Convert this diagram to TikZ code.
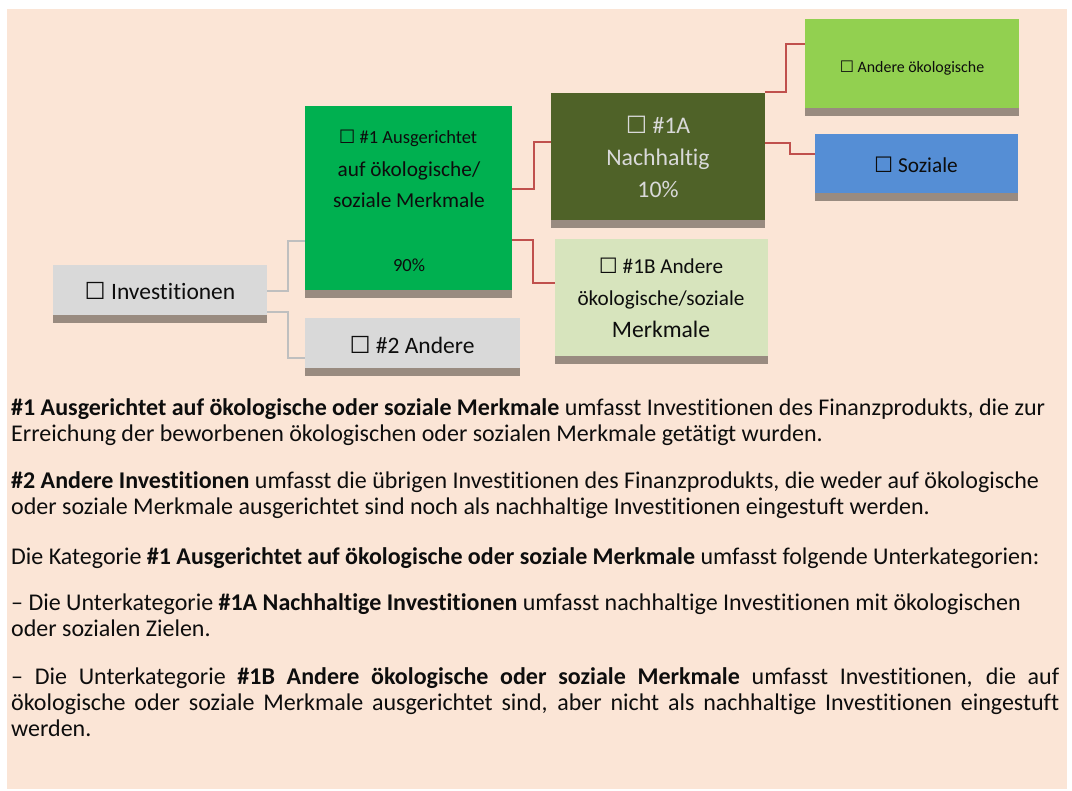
\documentclass[tikz,border=0pt]{standalone}
\usepackage{fontspec}
\setmainfont{Carlito}[Ligatures=NoCommon]
\newfontfamily\symfont[Scale=1.0]{DejaVu Sans}
\newcommand\cbx{{\symfont\char"2610}}
\newcommand\fsz[1]{\fontsize{#1}{#1}\selectfont}
\definecolor{peach}{HTML}{FBE5D6}
\definecolor{gbox}{HTML}{D9D9D9}
\definecolor{shd}{HTML}{998B80}
\definecolor{green1}{HTML}{00B050}
\definecolor{olive}{HTML}{4F6228}
\definecolor{lgreen}{HTML}{92D050}
\definecolor{blue1}{HTML}{558ED5}
\definecolor{pale}{HTML}{D7E4BD}
\definecolor{redl}{HTML}{C0504D}
\definecolor{grayl}{HTML}{BFBFBF}
\definecolor{txt}{HTML}{0D0D0D}
\tikzset{
  boxn/.style={draw=none, inner sep=0pt, anchor=north west},
  lbl/.style={inner sep=0pt, anchor=base, text=txt},
  body/.style={inner sep=0pt, anchor=base west, text=txt, font=\fsz{24}},
  glink/.style={draw=grayl, line width=2pt},
  rlink/.style={draw=redl, line width=2pt},
}
\newcommand\shadowbar[1]{\fill[shd] (#1.south west) rectangle ([yshift=-8pt]#1.south east);}
\begin{document}
\begin{tikzpicture}[x=1pt,y=-1pt]
\useasboundingbox (0,0) rectangle (1072,791);
\fill[white] (0,0) rectangle (1072,791);
\fill[peach] (7,9) rectangle (1067,789);

% boxes
\node[boxn, fill=gbox, minimum width=214, minimum height=50] (inv) at (53,265) {};
\node[boxn, fill=green1, minimum width=207, minimum height=184] (g1) at (305,106) {};
\node[boxn, fill=gbox, minimum width=215, minimum height=50] (n2) at (305,318) {};
\node[boxn, fill=olive, minimum width=214, minimum height=127] (a1) at (551,93) {};
\node[boxn, fill=lgreen, minimum width=214, minimum height=89] (ao) at (805,19) {};
\node[boxn, fill=blue1, minimum width=203, minimum height=59] (soz) at (815,134) {};
\node[boxn, fill=pale, minimum width=213, minimum height=117] (b1) at (555,239) {};
\shadowbar{inv}
\shadowbar{g1}
\shadowbar{n2}
\shadowbar{a1}
\shadowbar{ao}
\shadowbar{soz}
\shadowbar{b1}

% connectors
\draw[glink] (inv.east |- 0,291) -- (288,291) |- (g1.west |- 0,241);
\draw[glink] (inv.east |- 0,312) -- (288,312) |- (n2.west |- 0,358);
\draw[rlink] (g1.east |- 0,189) -- (534,189) |- (a1.west |- 0,142);
\draw[rlink] (g1.east |- 0,240) -- (533,240) |- (b1.west |- 0,283);
\draw[rlink] (a1.east |- 0,92) -- (786,92) |- (ao.west |- 0,44);
\draw[rlink] (a1.east |- 0,143) -- (790,143) |- (soz.west |- 0,154);

% box labels
\node[lbl, font=\fsz{23.5}] (invt) at (160,300) {\cbx\ Investitionen};
\node[lbl, font=\fsz{23.5}] (n2t) at (412,353.5) {\cbx\ \#2 Andere};
\node[lbl, font=\fsz{18.5}] (g1a) at (408,144) {\cbx\ \#1 Ausgerichtet};
\node[lbl, font=\fsz{21.3}] (g1b) at (409,177) {auf ökologische/};
\node[lbl, font=\fsz{21.3}] (g1c) at (409,208) {soziale Merkmale};
\node[lbl, font=\fsz{18.5}] (g1d) at (409,272) {90\%};
\node[lbl, font=\fsz{23.8}, text=gbox] (a1a) at (658,133.5) {\cbx\ \#1A};
\node[lbl, font=\fsz{23.8}, text=gbox] (a1b) at (658,165.5) {Nachhaltig};
\node[lbl, font=\fsz{23.8}, text=gbox] (a1c) at (658,197.5) {10\%};
\node[lbl, font=\fsz{15.9}] (aot) at (912,73) {\cbx\ Andere ökologische};
\node[lbl, font=\fsz{21.3}] (sozt) at (916,173) {\cbx\ Soziale};
\node[lbl, font=\fsz{21.2}] (b1a) at (661,274) {\cbx\ \#1B Andere};
\node[lbl, font=\fsz{21.2}] (b1b) at (661,306) {ökologische/soziale};
\node[lbl, font=\fsz{23.6}] (b1c) at (661,337.5) {Merkmale};

% body text
\node[body] (t1) at (11,416) {\textbf{\#1 Ausgerichtet auf ökologische oder soziale Merkmale} umfasst Investitionen des Finanzprodukts, die zur};
\node[body] (t2) at (11,442) {Erreichung der beworbenen ökologischen oder sozialen Merkmale getätigt wurden.};
\node[body] (t3) at (11,489) {\textbf{\#2 Andere Investitionen} umfasst die übrigen Investitionen des Finanzprodukts, die weder auf ökologische};
\node[body] (t4) at (11,515) {oder soziale Merkmale ausgerichtet sind noch als nachhaltige Investitionen eingestuft werden.};
\node[body] (t5) at (11,565) {Die Kategorie \textbf{\#1 Ausgerichtet auf ökologische oder soziale Merkmale} umfasst folgende Unterkategorien:};
\node[body] (t6) at (11,611) {– Die Unterkategorie \textbf{\#1A Nachhaltige Investitionen} umfasst nachhaltige Investitionen mit ökologischen};
\node[body] (t7) at (11,637) {oder sozialen Zielen.};
\node[body] (t8) at (11,684) {\makebox[1048pt][s]{– Die Unterkategorie \textbf{\#1B Andere ökologische oder soziale Merkmale} umfasst Investitionen, die auf}};
\node[body] (t9) at (11,710) {\makebox[1048pt][s]{ökologische oder soziale Merkmale ausgerichtet sind, aber nicht als nachhaltige Investitionen eingestuft}};
\node[body] (t10) at (11,736) {werden.};
\end{tikzpicture}
\end{document}
